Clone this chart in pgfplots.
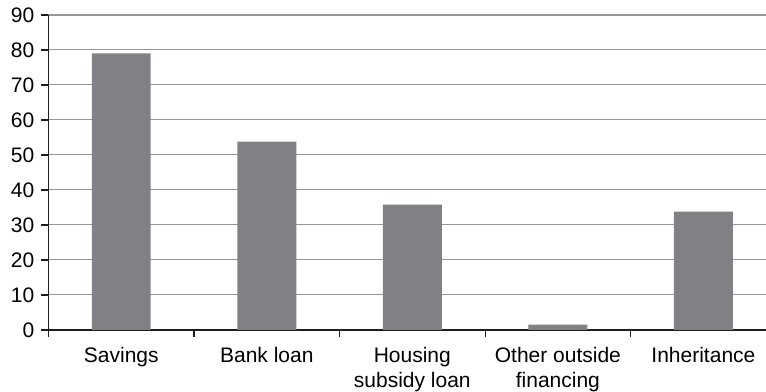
\documentclass[border=0pt]{standalone}
\usepackage{pgfplots}
\pgfplotsset{compat=1.18}
\usepackage{fontspec}
\setmainfont{Liberation Sans}
\definecolor{barc}{RGB}{128,129,133}
\definecolor{gridc}{RGB}{150,150,150}
\definecolor{axc}{RGB}{30,30,30}
\begin{document}
\fontsize{21}{25}\selectfont
\begin{tikzpicture}
\begin{axis}[
  name=ax,
  scale only axis,
  width=717.5pt, height=315pt,
  xmin=-0.5, xmax=4.43,
  ymin=0, ymax=90,
  ytick={0,10,...,90},
  xtick={0,1,2,3,4},
  xticklabels={Savings, Bank loan, {Housing\\subsidy loan}, {Other outside\\financing}, Inheritance},
  minor xtick={-0.5,0.5,1.5,2.5,3.5},
  axis x line*=bottom,
  axis y line*=left,
  tick align=outside,
  major tick length=7pt,
  minor tick length=7pt,
  every major x tick/.append style={draw=none},
  tick style={axc, line width=1.2pt},
  axis line style={axc, line width=1.2pt},
  ymajorgrids,
  grid style={gridc, line width=1pt},
  /pgf/number format/assume math mode=true,
  ticklabel style={font=\fontsize{21}{25}\selectfont, text=black},
  xticklabel style={align=center, yshift=-3pt},
  ybar, bar width=0.405,
  enlarge x limits=false,
]
\addplot[fill=barc, draw=none] coordinates {(0,79) (1,53.8) (2,35.8) (3,1.5) (4,33.8)};
\end{axis}
\pgfresetboundingbox
\path ([xshift=-48.5pt,yshift=-62pt]ax.south west) rectangle ([yshift=15pt]ax.north east);
\end{tikzpicture}
\end{document}
